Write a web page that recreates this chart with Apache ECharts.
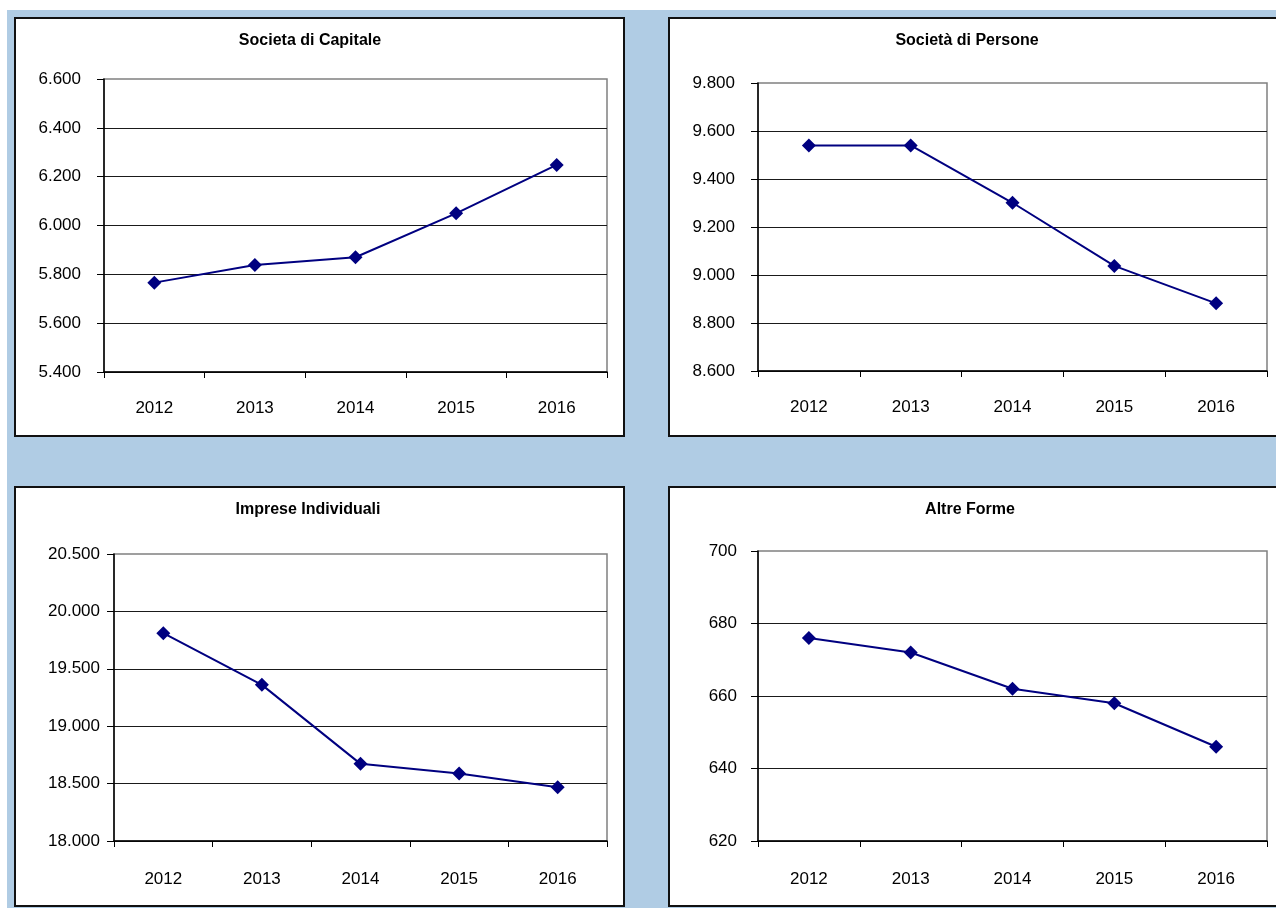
<!DOCTYPE html>
<html>
<head>
<meta charset="utf-8">
<title>Imprese per forma giuridica 2012-2016</title>
<script src="https://cdn.jsdelivr.net/npm/echarts@6/dist/echarts.min.js"></script>
<style>
  html, body { margin: 0; padding: 0; background: #ffffff; }
  #chart { width: 1276px; height: 908px; }
</style>
</head>
<body>
<div id="chart"></div>
<script>
// Anni
const years = ['2012', '2013', '2014', '2015', '2016'];

// Numero di imprese per forma giuridica
const societaCapitale = [5766, 5838, 5870, 6050, 6248];
const societaPersone = [9540, 9540, 9301, 9038, 8882];
const impreseIndividuali = [19810, 19360, 18672, 18587, 18468];
const altreForme = [676, 672, 662, 658, 646];

// Titoli dei pannelli
const titles = ['Societa di Capitale', 'Società di Persone', 'Imprese Individuali', 'Altre Forme'];

// Scale degli assi verticali: [min, max, passo]
const yScales = [
  [5400, 6600, 200],
  [8600, 9800, 200],
  [18000, 20500, 500],
  [620, 700, 20]
];

const seriesData = [societaCapitale, societaPersone, impreseIndividuali, altreForme];

const FONT = '"Liberation Sans", Arial, sans-serif';
const NAVY = '#000080';

// Riquadri: cornice del pannello, area del grafico, centro del titolo
const panels = [
  { box: [15, 18, 609, 418], grid: [104, 79, 503, 293], title: [310, 41], labelMargin: 23, xMargin: 28 },
  { box: [669, 18, 620, 418], grid: [758, 83, 509, 288], title: [967, 41], labelMargin: 23, xMargin: 28 },
  { box: [15, 487, 609, 419], grid: [114, 554, 493, 287], title: [308, 510], labelMargin: 14, xMargin: 30 },
  { box: [669, 487, 620, 419], grid: [758, 551, 509, 290], title: [970, 510], labelMargin: 21, xMargin: 30 }
];

function fmtIt(v) {
  return String(v).replace(/\B(?=(\d{3})+(?!\d))/g, '.');
}

const graphics = [
  { type: 'rect', shape: { x: 7, y: 10, width: 1269, height: 898 }, style: { fill: '#b0cce4' }, z: -10 }
];
panels.forEach((p, i) => {
  graphics.push({
    type: 'rect',
    shape: { x: p.box[0], y: p.box[1], width: p.box[2], height: p.box[3] },
    style: { fill: '#ffffff', stroke: '#111111', lineWidth: 2 },
    z: -5
  });
  graphics.push({
    type: 'text',
    x: p.title[0], y: p.title[1],
    style: {
      text: titles[i], fill: '#000000',
      font: 'bold 16px ' + FONT,
      textAlign: 'center', textVerticalAlign: 'middle'
    },
    z: 10
  });
});

const option = {
  backgroundColor: 'transparent',
  animation: false,
  graphic: graphics,
  grid: panels.map(p => ({
    left: p.grid[0], top: p.grid[1], width: p.grid[2], height: p.grid[3],
    containLabel: false, show: true,
    backgroundColor: 'transparent', borderColor: '#808080', borderWidth: 1.5
  })),
  xAxis: panels.map((p, i) => ({
    type: 'category', gridIndex: i, data: years, boundaryGap: true,
    axisLine: { show: true, lineStyle: { color: '#000000', width: 1.5 } },
    axisTick: { show: true, length: 6, lineStyle: { color: '#000000', width: 1 } },
    axisLabel: { color: '#000000', fontSize: 17, fontFamily: FONT, margin: p.xMargin },
    splitLine: { show: false }
  })),
  yAxis: panels.map((p, i) => ({
    type: 'value', gridIndex: i,
    min: yScales[i][0], max: yScales[i][1], interval: yScales[i][2],
    axisLine: { show: true, lineStyle: { color: '#000000', width: 1.5 } },
    axisTick: { show: true, length: 7, lineStyle: { color: '#000000', width: 1 } },
    axisLabel: { color: '#000000', fontSize: 17, fontFamily: FONT, margin: p.labelMargin, formatter: fmtIt },
    splitLine: { show: true, showMaxLine: false, lineStyle: { color: '#1a1a1a', width: 1 } }
  })),
  series: seriesData.map((d, i) => ({
    type: 'line', xAxisIndex: i, yAxisIndex: i, data: d,
    symbol: 'diamond', symbolSize: 14, showSymbol: true,
    lineStyle: { color: NAVY, width: 2 },
    itemStyle: { color: NAVY, borderWidth: 0 },
    z: 5
  }))
};

const chart = echarts.init(document.getElementById('chart'));
chart.setOption(option);
</script>
</body>
</html>
